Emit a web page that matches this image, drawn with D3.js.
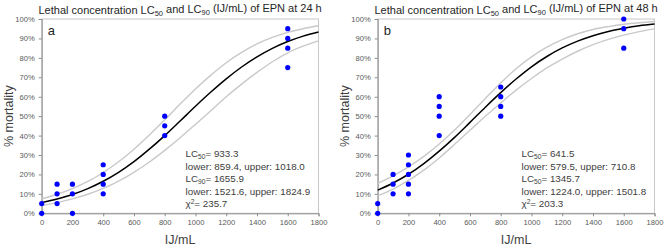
<!DOCTYPE html>
<html>
<head>
<meta charset="utf-8">
<script src="https://cdn.jsdelivr.net/npm/d3@7"></script>
<style>
  body { margin: 0; background: #fff; }
  svg { display: block; font-family: "Liberation Sans", Arial, sans-serif; }
</style>
</head>
<body>
<div id="chart"></div>
<script>
// dose levels on the x axis (IJ/mL) and observed mortality (%) per replicate
var dosesA = [0, 0, 100, 100, 100, 200, 200, 200, 400, 400, 400, 400, 800, 800, 800, 1600, 1600, 1600, 1600];
var mortA  = [0, 5, 5, 10, 15, 0, 10, 15, 10, 15, 20, 25, 40, 45, 50, 75, 85, 90, 95];
var dosesB = [0, 0, 100, 100, 100, 200, 200, 200, 200, 200, 400, 400, 400, 400, 800, 800, 800, 800, 1600, 1600, 1600];
var mortB  = [0, 5, 10, 15, 20, 10, 15, 20, 25, 30, 40, 50, 55, 60, 50, 55, 60, 65, 85, 95, 100];

// fitted curve + confidence band at every 100 IJ/mL
var curveX = [0, 100, 200, 300, 400, 500, 600, 700, 800, 900, 1000, 1100, 1200, 1300, 1400, 1500, 1600, 1700, 1800];
var fitA   = [5.5, 7.4, 9.7, 12.7, 16.5, 21.1, 26.6, 33.0, 40.0, 47.5, 55.1, 62.4, 69.2, 75.3, 80.5, 84.9, 88.4, 91.2, 93.3];
var upperA = [7.5, 9.8, 12.7, 16.4, 21.0, 26.5, 33.0, 40.3, 48.1, 56.2, 64.0, 71.1, 77.5, 82.8, 87.2, 90.5, 93.1, 95.0, 96.5];
var lowerA = [4.0, 5.5, 7.4, 9.8, 12.8, 16.6, 21.1, 26.4, 32.4, 38.9, 45.8, 52.8, 60.0, 66.5, 72.5, 78.0, 82.6, 86.0, 88.7];
var fitB   = [11.9, 15.6, 20.1, 25.6, 32.0, 39.1, 46.8, 54.6, 62.1, 69.1, 75.4, 80.7, 85.1, 88.6, 91.4, 93.6, 95.2, 96.5, 97.4];
var upperB = [15.4, 19.3, 23.9, 29.3, 35.7, 42.9, 50.9, 59.1, 67.1, 74.4, 80.5, 85.5, 89.4, 92.4, 94.6, 96.1, 97.3, 98.1, 98.7];
var lowerB = [9.1, 12.5, 16.9, 22.2, 28.5, 35.5, 42.7, 49.9, 56.8, 63.4, 69.4, 74.8, 79.4, 83.4, 86.8, 89.5, 91.7, 93.5, 94.9];

// annotation text ("_" = subscript, "^" = superscript)
var statsA = ["LC_50= 933.3", "lower: 859.4, upper: 1018.0", "LC_90= 1655.9", "lower: 1521.6, upper: 1824.9", "\u03c7^2= 235.7"];
var statsB = ["LC_50= 641.5", "lower: 579.5, upper: 710.8", "LC_50= 1345.7", "lower: 1224.0, upper: 1501.8", "\u03c7^2= 203.3"];
var hoursA = "24", hoursB = "48";

var W = 669, H = 249;
var svg = d3.select("#chart").append("svg")
    .attr("width", W)
    .attr("height", H);

var panels = [
    {ox: 0, letter: "a", hours: hoursA, doses: dosesA, mort: mortA, fit: fitA, upper: upperA, lower: lowerA, stats: statsA},
    {ox: 336, letter: "b", hours: hoursB, doses: dosesB, mort: mortB, fit: fitB, upper: upperB, lower: lowerB, stats: statsB}
];

function richText(sel, str) {
    // split "LC_50= ..." into normal / shifted tspans
    var m = str.match(/^(.*?)([_^])(\d+)(.*)$/);
    if (!m) { sel.append("tspan").text(str); return; }
    sel.append("tspan").text(m[1]);
    sel.append("tspan")
        .attr("font-size", "0.68em")
        .attr("dy", m[2] === "_" ? "0.3em" : "-0.5em")
        .text(m[3]);
    sel.append("tspan")
        .attr("dy", m[2] === "_" ? "-0.2em" : "0.34em")
        .text(m[4]);
}

panels.forEach(function (p) {
    var g = svg.append("g").attr("transform", "translate(" + p.ox + ",0)");
    var x = d3.scaleLinear().domain([0, 1800]).range([41.7, 318.5]);
    var y = d3.scaleLinear().domain([0, 100]).range([213.3, 19]);

    // plot box
    g.append("rect")
        .attr("x", x(0)).attr("y", y(100))
        .attr("width", x(1800) - x(0)).attr("height", y(0) - y(100))
        .attr("fill", "none").attr("stroke", "#c8c8c8").attr("stroke-width", 1);

    var xAxis = g.append("g")
        .attr("transform", "translate(0," + y(0) + ")")
        .call(d3.axisBottom(x).ticks(9).tickSize(3).tickPadding(3).tickFormat(d3.format("d")));
    var yAxis = g.append("g")
        .attr("transform", "translate(" + x(0) + ",0)")
        .call(d3.axisLeft(y).ticks(10).tickSize(3).tickPadding(4).tickFormat(function (d) { return d + "%"; }));
    [xAxis, yAxis].forEach(function (ax) {
        ax.select(".domain").attr("stroke", "#8c8c8c");
        ax.selectAll(".tick line").attr("stroke", "#8c8c8c");
        ax.selectAll(".tick text")
            .attr("fill", "#595959")
            .attr("font-size", 7.6)
            .attr("font-family", "Liberation Sans, Arial, sans-serif");
    });

    // band + fitted curve
    var line = d3.line()
        .x(function (d, i) { return x(curveX[i]); })
        .y(function (d) { return y(d); })
        .curve(d3.curveMonotoneX);
    [p.upper, p.lower].forEach(function (s) {
        g.append("path").attr("d", line(s))
            .attr("fill", "none").attr("stroke", "#c9c9c9").attr("stroke-width", 1.4);
    });
    g.append("path").attr("d", line(p.fit))
        .attr("fill", "none").attr("stroke", "#000").attr("stroke-width", 1.5);

    g.selectAll("circle.obs")
        .data(p.doses)
        .enter().append("circle")
        .attr("class", "obs")
        .attr("cx", function (d) { return x(d); })
        .attr("cy", function (d, i) { return y(p.mort[i]); })
        .attr("r", 2.6)
        .attr("fill", "#0000ff");

    // title
    var t = g.append("text")
        .attr("x", (x(0) + x(1800)) / 2)
        .attr("y", 14)
        .attr("text-anchor", "middle")
        .attr("font-size", 11)
        .attr("fill", "#262626");
    t.append("tspan").text("Lethal concentration LC");
    t.append("tspan").attr("font-size", "0.68em").attr("dy", "0.3em").text("50");
    t.append("tspan").attr("dy", "-0.3em").text(" and LC");
    t.append("tspan").attr("font-size", "0.68em").attr("dy", "0.3em").text("90");
    t.append("tspan").attr("dy", "-0.3em").text(" (IJ/mL) of EPN at " + p.hours + " h");

    g.append("text")
        .attr("x", x(0) + 6).attr("y", 35)
        .attr("font-size", 13).attr("fill", "#262626")
        .text(p.letter);

    // axis titles
    g.append("text")
        .attr("x", (x(0) + x(1800)) / 2).attr("y", 244)
        .attr("text-anchor", "middle")
        .attr("font-size", 12.5).attr("fill", "#404040")
        .text("IJ/mL");
    g.append("text")
        .attr("transform", "translate(13," + (y(0) + y(100)) / 2 + ") rotate(-90)")
        .attr("text-anchor", "middle")
        .attr("font-size", 12.5).attr("fill", "#404040")
        .text("% mortality");

    // statistics block
    p.stats.forEach(function (s, i) {
        var txt = g.append("text")
            .attr("x", 185.5)
            .attr("y", 157 + i * 12.6)
            .attr("font-size", 9.8)
            .attr("fill", "#404040");
        richText(txt, s);
    });
});
</script>
</body>
</html>
